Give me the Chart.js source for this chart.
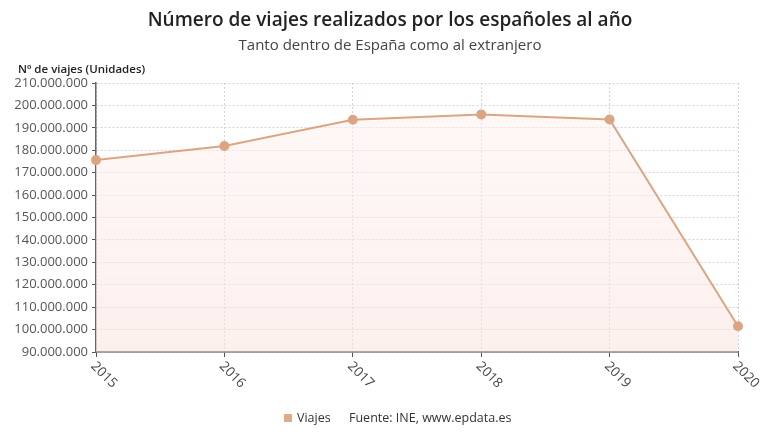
<!DOCTYPE html>
<html>
<head>
<meta charset="utf-8">
<script src="https://cdn.jsdelivr.net/npm/chart.js@4.4.1/dist/chart.umd.min.js"></script>
<style>
  html, body { margin: 0; padding: 0; background: #fff; }
  #wrap { width: 780px; height: 440px; }
</style>
</head>
<body>
<div id="wrap"><canvas id="viajesChart" width="780" height="440"></canvas></div>
<script>
// Data
const years = ['2015', '2016', '2017', '2018', '2019', '2020'];
const viajes = [175600000, 181900000, 193600000, 196000000, 193700000, 101500000];
const yMin = 90000000;
const yMax = 210000000;
const yStep = 10000000;

const titleText = 'Número de viajes realizados por los españoles al año';
const subtitleText = 'Tanto dentro de España como al extranjero';
const yTitleText = 'Nº de viajes (Unidades)';
const legendText = 'Viajes';
const sourceText = 'Fuente: INE, www.epdata.es';

const lineColor = '#dba582';
const FONT = '"Open Sans", "Noto Sans", sans-serif';

// 175600000 -> "175.600.000"
const fmt = v => String(Math.round(v)).replace(/\B(?=(\d{3})+(?!\d))/g, '.');

// Titles, rotated year labels, legend and source are drawn here
const extrasPlugin = {
  id: 'extras',
  afterDraw(chart) {
    const ctx = chart.ctx;
    const x = chart.scales.x;
    const area = chart.chartArea;
    ctx.save();
    ctx.fillStyle = '#222';
    ctx.textAlign = 'center';
    ctx.textBaseline = 'middle';
    ctx.font = '600 19px ' + FONT;
    ctx.fillText(titleText, 390, 21);
    ctx.fillStyle = '#444';
    ctx.font = '15px ' + FONT;
    ctx.fillText(subtitleText, 390, 46);

    ctx.textAlign = 'left';
    ctx.fillStyle = '#222';
    ctx.font = '600 11.5px ' + FONT;
    ctx.fillText(yTitleText, 18, 70);

    // year labels, rotated 45 degrees clockwise, starting at the tick
    ctx.fillStyle = '#444';
    ctx.font = '13.5px ' + FONT;
    years.forEach((y, i) => {
      const px = x.getPixelForValue(i);
      ctx.save();
      ctx.translate(px - 3, area.bottom + 12);
      ctx.rotate(Math.PI / 4);
      ctx.textAlign = 'left';
      ctx.textBaseline = 'middle';
      ctx.fillText(y, 0, 0);
      ctx.restore();
    });

    // legend + source line
    ctx.font = '12.5px ' + FONT;
    ctx.fillStyle = '#e0ab8a';
    ctx.fillRect(284, 414, 8, 8);
    ctx.fillStyle = '#333';
    ctx.textBaseline = 'middle';
    ctx.fillText(legendText, 297, 418);
    ctx.fillText(sourceText, 349, 418);
    ctx.restore();
  }
};

const gridOpts = (tickLen) => ({
  color: '#d4d0e2',
  lineWidth: 1,
  drawTicks: true,
  tickLength: tickLen,
  tickColor: '#555',
  tickBorderDash: []
});

const ctx = document.getElementById('viajesChart').getContext('2d');
new Chart(ctx, {
  type: 'line',
  data: {
    labels: years,
    datasets: [{
      label: legendText,
      data: viajes,
      borderColor: lineColor,
      borderWidth: 2,
      pointRadius: 4,
      pointHoverRadius: 4,
      pointBackgroundColor: lineColor,
      pointBorderColor: lineColor,
      tension: 0,
      fill: 'start',
      backgroundColor: (context) => {
        const area = context.chart.chartArea;
        if (!area) return 'rgba(250,230,225,0.4)';
        const g = context.chart.ctx.createLinearGradient(0, area.top, 0, area.bottom);
        g.addColorStop(0, 'rgba(253,242,240,0.5)');
        g.addColorStop(1, 'rgba(250,228,222,0.55)');
        return g;
      }
    }]
  },
  options: {
    responsive: false,
    animation: false,
    layout: { padding: { top: 83, right: 42, bottom: 0, left: 0 } },
    plugins: {
      legend: { display: false },
      title: { display: false },
      tooltip: { enabled: false }
    },
    scales: {
      x: {
        offset: false,
        ticks: { display: false },
        grid: gridOpts(5),
        border: { color: '#555', width: 1.5, dash: [2, 2] },
        afterFit: (scale) => { scale.height = 88; }
      },
      y: {
        min: yMin,
        max: yMax,
        ticks: {
          stepSize: yStep,
          color: '#555',
          font: { family: FONT, size: 13 },
          padding: 4,
          callback: (v) => fmt(v)
        },
        grid: gridOpts(4),
        border: { color: '#666', width: 1.5, dash: [2, 2] },
        afterFit: (scale) => { scale.width = 96; }
      }
    }
  },
  plugins: [extrasPlugin]
});
</script>
</body>
</html>
